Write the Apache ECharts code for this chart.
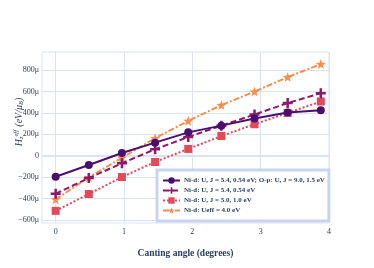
<!DOCTYPE html>
<html><head><meta charset="utf-8">
<script src="https://cdn.jsdelivr.net/npm/echarts@6/dist/echarts.min.js"></script>
<style>html,body{margin:0;padding:0;background:#fff}#c{width:374px;height:268px}</style>
</head><body><div id="c"></div>
<script>
const angles = [0, 0.485, 0.97, 1.455, 1.94, 2.425, 2.91, 3.395, 3.88];
const seriesNames = [
  'Ni-d: U, J = 5.4, 0.54 eV; O-p: U, J = 9.0, 1.5 eV',
  'Ni-d: U, J = 5.4, 0.54 eV',
  'Ni-d: U, J = 5.0, 1.0 eV',
  'Ni-d: Ueff = 4.0 eV'
];
// values in micro-eV/muB
const hUJOp = [-197, -87, 25, 122, 218, 281, 347, 403, 426];
const hUJ054 = [-356, -209, -71, 60, 175, 281, 385, 492, 585];
const hUJ10 = [-516, -359, -200, -59, 63, 184, 294, 400, 507];
const hUeff = [-409, -203, -19, 163, 326, 473, 600, 735, 857];
const xTicks = [0, 1, 2, 3, 4];
const yTicks = [-600, -400, -200, 0, 200, 400, 600, 800];

const colors = ['#4a0f6e', '#8b1a6b', '#e04a5a', '#f98e4c'];
const symbols = ['circle', 'path://M-1,-4H1V-1H4V1H1V4H-1V1H-4V-1H-1Z', 'rect', 'path://M0,-5L1.2,-1.6L4.8,-1.5L1.9,0.6L2.9,4.1L0,2L-2.9,4.1L-1.9,0.6L-4.8,-1.5L-1.2,-1.6Z'];
const symSizes = [8, 10, 8, 10];
const dashes = ['solid', [6, 3], [2, 2], [6, 2, 2, 2]];
const allData = [hUJOp, hUJ054, hUJ10, hUeff];
const font = 'Liberation Serif';
const txt = '#2a3f5f';
const gridCol = '#dbe3f3';

const series = allData.map((vals, i) => ({
  name: seriesNames[i],
  type: 'line',
  data: angles.map((a, k) => [a, vals[k]]),
  symbol: symbols[i],
  symbolSize: symSizes[i],
  showSymbol: true,
  itemStyle: { color: colors[i] },
  lineStyle: { color: colors[i], width: 2, type: dashes[i] },
  z: 10 - i
}));
series[0].markLine = {
  silent: true, symbol: 'none', label: { show: false },
  lineStyle: { color: gridCol, width: 2, type: 'solid' },
  data: [{ yAxis: 0 }], z: 1
};

const chart = echarts.init(document.getElementById('c'), null, { renderer: 'canvas' });
chart.setOption({
  animation: false,
  backgroundColor: '#fff',
  grid: { left: 42, right: 45, top: 52, bottom: 45, show: true, borderColor: gridCol, borderWidth: 1, containLabel: false },
  xAxis: {
    type: 'value', min: -0.2, max: 4.0,
    axisLine: { show: false },
    axisTick: { show: false, customValues: xTicks },
    axisLabel: { customValues: xTicks, color: txt, fontFamily: font, fontSize: 8, margin: 5 },
    splitLine: { show: true, lineStyle: { color: gridCol, width: 1 } },
    name: 'Canting angle (degrees)', nameLocation: 'middle', nameGap: 26,
    nameTextStyle: { color: txt, fontFamily: font, fontSize: 9.5, fontWeight: 'bold' }
  },
  yAxis: {
    type: 'value', min: -630, max: 970,
    axisLine: { show: false },
    axisTick: { show: false, customValues: yTicks },
    axisLabel: { customValues: yTicks, color: txt, fontFamily: font, fontSize: 8, margin: 3,
      formatter: v => v === 0 ? '0' : (v < 0 ? '\u2212' + (-v) : v) + 'μ' },
    splitLine: { show: true, lineStyle: { color: gridCol, width: 1 } }
  },
  legend: {
    orient: 'vertical', left: 157, top: 170,
    width: 168,
    backgroundColor: '#fff', borderColor: '#c9d5ef', borderWidth: 3,
    padding: [7, 4, 7, 5], itemGap: 3, itemWidth: 17, itemHeight: 8,
    textStyle: { color: txt, fontFamily: font, fontSize: 7, fontWeight: 'bold', padding: [0, 0, 0, -1] },
    data: seriesNames
  },
  graphic: [{
    type: 'text', x: 19, y: 122, rotation: Math.PI / 2,
    style: {
      text: '{i|H}{sub|z}{sup|eff} {i|(eV/μ}{sub|B}{i|)}',
      align: 'center', verticalAlign: 'middle',
      rich: {
        i: { fontFamily: font, fontStyle: 'italic', fontSize: 10, fill: txt },
        sub: { fontFamily: font, fontStyle: 'italic', fontSize: 6.5, fill: txt, verticalAlign: 'bottom', padding: [4, 0, 0, 0] },
        sup: { fontFamily: font, fontStyle: 'italic', fontSize: 6.5, fill: txt, verticalAlign: 'top', padding: [0, 0, 4, 0] }
      }
    }
  }],
  series: series
});
</script></body></html>
